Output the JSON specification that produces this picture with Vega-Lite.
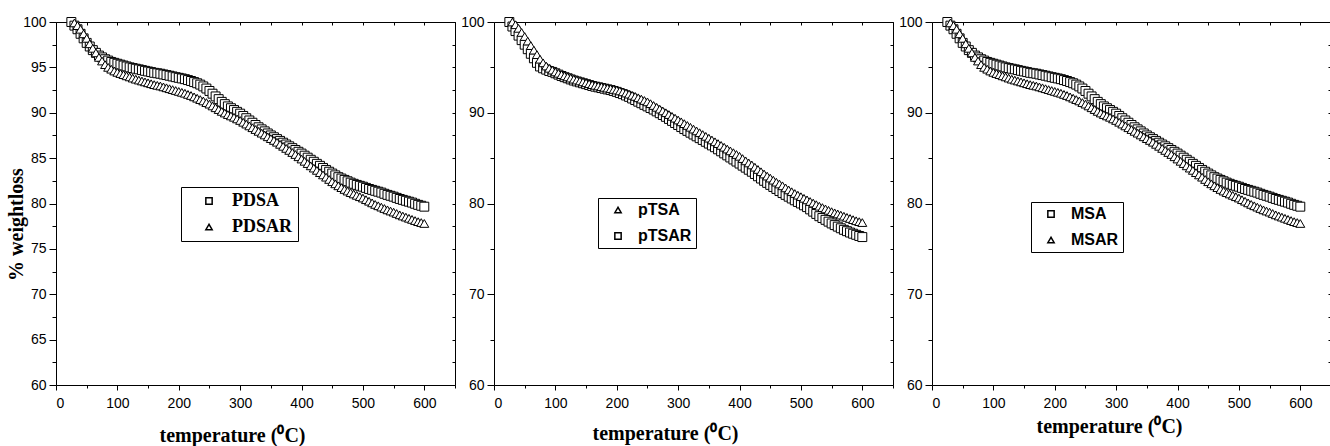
{
"$schema": "https://vega.github.io/schema/vega-lite/v6.json",
"background": "white",
"padding": {"left": 5, "top": 14, "right": 0, "bottom": 0},
"bounds": "flush",
"spacing": 39,
"resolve": {"scale": {"shape": "independent"}},
"config": {
  "view": {"stroke": "black", "strokeWidth": 1},
  "axis": {"domain": false, "grid": false, "labelFont": "Liberation Sans", "labelFontSize": 14, "labelColor": "black", "tickColor": "black", "tickWidth": 1, "titleFont": "Liberation Serif", "titleFontSize": 20, "titleFontWeight": "bold", "titleColor": "black"},
  "legend": {"title": null, "strokeColor": "black", "fillColor": "white", "symbolSize": 40, "labelColor": "black", "labelFontWeight": "bold"}
},
"datasets": {
"p1": [
{"s":"PDSA","t":25,"w":100},{"s":"PDSA","t":30,"w":99.6},{"s":"PDSA","t":35,"w":99.2},{"s":"PDSA","t":40,"w":98.7},{"s":"PDSA","t":45,"w":98.2},{"s":"PDSA","t":50,"w":97.7},{"s":"PDSA","t":55,"w":97.3},{"s":"PDSA","t":60,"w":96.9},{"s":"PDSA","t":65,"w":96.6},{"s":"PDSA","t":70,"w":96.3},{"s":"PDSA","t":75,"w":96.1},{"s":"PDSA","t":80,"w":95.9},{"s":"PDSA","t":85,"w":95.75},{"s":"PDSA","t":90,"w":95.6},{"s":"PDSA","t":95,"w":95.5},{"s":"PDSA","t":100,"w":95.4},{"s":"PDSA","t":105,"w":95.3},{"s":"PDSA","t":110,"w":95.2},{"s":"PDSA","t":115,"w":95.1},{"s":"PDSA","t":120,"w":95.0},{"s":"PDSA","t":125,"w":94.92},{"s":"PDSA","t":130,"w":94.85},{"s":"PDSA","t":135,"w":94.78},{"s":"PDSA","t":140,"w":94.7},{"s":"PDSA","t":145,"w":94.62},{"s":"PDSA","t":150,"w":94.55},{"s":"PDSA","t":155,"w":94.48},{"s":"PDSA","t":160,"w":94.4},{"s":"PDSA","t":165,"w":94.35},{"s":"PDSA","t":170,"w":94.3},{"s":"PDSA","t":175,"w":94.22},{"s":"PDSA","t":180,"w":94.15},{"s":"PDSA","t":185,"w":94.08},{"s":"PDSA","t":190,"w":94.0},{"s":"PDSA","t":195,"w":93.92},{"s":"PDSA","t":200,"w":93.85},{"s":"PDSA","t":205,"w":93.78},{"s":"PDSA","t":210,"w":93.7},{"s":"PDSA","t":215,"w":93.6},{"s":"PDSA","t":220,"w":93.5},{"s":"PDSA","t":225,"w":93.38},{"s":"PDSA","t":230,"w":93.25},{"s":"PDSA","t":235,"w":93.1},{"s":"PDSA","t":240,"w":92.9},{"s":"PDSA","t":245,"w":92.67},{"s":"PDSA","t":250,"w":92.4},{"s":"PDSA","t":255,"w":92.1},{"s":"PDSA","t":260,"w":91.8},{"s":"PDSA","t":265,"w":91.5},{"s":"PDSA","t":270,"w":91.2},{"s":"PDSA","t":275,"w":90.95},{"s":"PDSA","t":280,"w":90.7},{"s":"PDSA","t":285,"w":90.5},{"s":"PDSA","t":290,"w":90.3},{"s":"PDSA","t":295,"w":90.1},{"s":"PDSA","t":300,"w":89.9},{"s":"PDSA","t":305,"w":89.65},{"s":"PDSA","t":310,"w":89.4},{"s":"PDSA","t":315,"w":89.15},{"s":"PDSA","t":320,"w":88.9},{"s":"PDSA","t":325,"w":88.65},{"s":"PDSA","t":330,"w":88.4},{"s":"PDSA","t":335,"w":88.17},{"s":"PDSA","t":340,"w":87.95},{"s":"PDSA","t":345,"w":87.72},{"s":"PDSA","t":350,"w":87.5},{"s":"PDSA","t":355,"w":87.3},{"s":"PDSA","t":360,"w":87.1},{"s":"PDSA","t":365,"w":86.9},{"s":"PDSA","t":370,"w":86.7},{"s":"PDSA","t":375,"w":86.5},{"s":"PDSA","t":380,"w":86.3},{"s":"PDSA","t":385,"w":86.1},{"s":"PDSA","t":390,"w":85.9},{"s":"PDSA","t":395,"w":85.7},{"s":"PDSA","t":400,"w":85.5},{"s":"PDSA","t":405,"w":85.27},{"s":"PDSA","t":410,"w":85.05},{"s":"PDSA","t":415,"w":84.82},{"s":"PDSA","t":420,"w":84.6},{"s":"PDSA","t":425,"w":84.37},{"s":"PDSA","t":430,"w":84.15},{"s":"PDSA","t":435,"w":83.92},{"s":"PDSA","t":440,"w":83.7},{"s":"PDSA","t":445,"w":83.5},{"s":"PDSA","t":450,"w":83.3},{"s":"PDSA","t":455,"w":83.1},{"s":"PDSA","t":460,"w":82.9},{"s":"PDSA","t":465,"w":82.75},{"s":"PDSA","t":470,"w":82.6},{"s":"PDSA","t":475,"w":82.45},{"s":"PDSA","t":480,"w":82.3},{"s":"PDSA","t":485,"w":82.17},{"s":"PDSA","t":490,"w":82.05},{"s":"PDSA","t":495,"w":81.95},{"s":"PDSA","t":500,"w":81.85},{"s":"PDSA","t":505,"w":81.72},{"s":"PDSA","t":510,"w":81.6},{"s":"PDSA","t":515,"w":81.5},{"s":"PDSA","t":520,"w":81.4},{"s":"PDSA","t":525,"w":81.3},{"s":"PDSA","t":530,"w":81.2},{"s":"PDSA","t":535,"w":81.07},{"s":"PDSA","t":540,"w":80.95},{"s":"PDSA","t":545,"w":80.85},{"s":"PDSA","t":550,"w":80.75},{"s":"PDSA","t":555,"w":80.62},{"s":"PDSA","t":560,"w":80.5},{"s":"PDSA","t":565,"w":80.4},{"s":"PDSA","t":570,"w":80.3},{"s":"PDSA","t":575,"w":80.2},{"s":"PDSA","t":580,"w":80.1},{"s":"PDSA","t":585,"w":79.97},{"s":"PDSA","t":590,"w":79.85},{"s":"PDSA","t":595,"w":79.75},{"s":"PDSA","t":600,"w":79.65},
{"s":"PDSAR","t":30,"w":99.9},{"s":"PDSAR","t":35,"w":99.6},{"s":"PDSAR","t":40,"w":99.2},{"s":"PDSAR","t":45,"w":98.7},{"s":"PDSAR","t":50,"w":98.2},{"s":"PDSAR","t":55,"w":97.6},{"s":"PDSAR","t":60,"w":97.1},{"s":"PDSAR","t":65,"w":96.6},{"s":"PDSAR","t":70,"w":96.1},{"s":"PDSAR","t":75,"w":95.7},{"s":"PDSAR","t":80,"w":95.3},{"s":"PDSAR","t":85,"w":95.0},{"s":"PDSAR","t":90,"w":94.8},{"s":"PDSAR","t":95,"w":94.6},{"s":"PDSAR","t":100,"w":94.45},{"s":"PDSAR","t":105,"w":94.32},{"s":"PDSAR","t":110,"w":94.2},{"s":"PDSAR","t":115,"w":94.07},{"s":"PDSAR","t":120,"w":93.95},{"s":"PDSAR","t":125,"w":93.82},{"s":"PDSAR","t":130,"w":93.7},{"s":"PDSAR","t":135,"w":93.6},{"s":"PDSAR","t":140,"w":93.5},{"s":"PDSAR","t":145,"w":93.4},{"s":"PDSAR","t":150,"w":93.3},{"s":"PDSAR","t":155,"w":93.2},{"s":"PDSAR","t":160,"w":93.1},{"s":"PDSAR","t":165,"w":93.02},{"s":"PDSAR","t":170,"w":92.95},{"s":"PDSAR","t":175,"w":92.85},{"s":"PDSAR","t":180,"w":92.75},{"s":"PDSAR","t":185,"w":92.65},{"s":"PDSAR","t":190,"w":92.55},{"s":"PDSAR","t":195,"w":92.45},{"s":"PDSAR","t":200,"w":92.35},{"s":"PDSAR","t":205,"w":92.25},{"s":"PDSAR","t":210,"w":92.15},{"s":"PDSAR","t":215,"w":92.02},{"s":"PDSAR","t":220,"w":91.9},{"s":"PDSAR","t":225,"w":91.75},{"s":"PDSAR","t":230,"w":91.6},{"s":"PDSAR","t":235,"w":91.45},{"s":"PDSAR","t":240,"w":91.3},{"s":"PDSAR","t":245,"w":91.12},{"s":"PDSAR","t":250,"w":90.95},{"s":"PDSAR","t":255,"w":90.75},{"s":"PDSAR","t":260,"w":90.55},{"s":"PDSAR","t":265,"w":90.35},{"s":"PDSAR","t":270,"w":90.15},{"s":"PDSAR","t":275,"w":89.97},{"s":"PDSAR","t":280,"w":89.8},{"s":"PDSAR","t":285,"w":89.65},{"s":"PDSAR","t":290,"w":89.5},{"s":"PDSAR","t":295,"w":89.32},{"s":"PDSAR","t":300,"w":89.15},{"s":"PDSAR","t":305,"w":88.95},{"s":"PDSAR","t":310,"w":88.75},{"s":"PDSAR","t":315,"w":88.55},{"s":"PDSAR","t":320,"w":88.35},{"s":"PDSAR","t":325,"w":88.15},{"s":"PDSAR","t":330,"w":87.95},{"s":"PDSAR","t":335,"w":87.75},{"s":"PDSAR","t":340,"w":87.55},{"s":"PDSAR","t":345,"w":87.35},{"s":"PDSAR","t":350,"w":87.15},{"s":"PDSAR","t":355,"w":86.95},{"s":"PDSAR","t":360,"w":86.75},{"s":"PDSAR","t":365,"w":86.52},{"s":"PDSAR","t":370,"w":86.3},{"s":"PDSAR","t":375,"w":86.07},{"s":"PDSAR","t":380,"w":85.85},{"s":"PDSAR","t":385,"w":85.62},{"s":"PDSAR","t":390,"w":85.4},{"s":"PDSAR","t":395,"w":85.15},{"s":"PDSAR","t":400,"w":84.9},{"s":"PDSAR","t":405,"w":84.65},{"s":"PDSAR","t":410,"w":84.4},{"s":"PDSAR","t":415,"w":84.15},{"s":"PDSAR","t":420,"w":83.9},{"s":"PDSAR","t":425,"w":83.65},{"s":"PDSAR","t":430,"w":83.4},{"s":"PDSAR","t":435,"w":83.15},{"s":"PDSAR","t":440,"w":82.9},{"s":"PDSAR","t":445,"w":82.65},{"s":"PDSAR","t":450,"w":82.4},{"s":"PDSAR","t":455,"w":82.17},{"s":"PDSAR","t":460,"w":81.95},{"s":"PDSAR","t":465,"w":81.75},{"s":"PDSAR","t":470,"w":81.55},{"s":"PDSAR","t":475,"w":81.37},{"s":"PDSAR","t":480,"w":81.2},{"s":"PDSAR","t":485,"w":81.05},{"s":"PDSAR","t":490,"w":80.9},{"s":"PDSAR","t":495,"w":80.75},{"s":"PDSAR","t":500,"w":80.6},{"s":"PDSAR","t":505,"w":80.42},{"s":"PDSAR","t":510,"w":80.25},{"s":"PDSAR","t":515,"w":80.07},{"s":"PDSAR","t":520,"w":79.9},{"s":"PDSAR","t":525,"w":79.75},{"s":"PDSAR","t":530,"w":79.6},{"s":"PDSAR","t":535,"w":79.45},{"s":"PDSAR","t":540,"w":79.3},{"s":"PDSAR","t":545,"w":79.17},{"s":"PDSAR","t":550,"w":79.05},{"s":"PDSAR","t":555,"w":78.9},{"s":"PDSAR","t":560,"w":78.75},{"s":"PDSAR","t":565,"w":78.62},{"s":"PDSAR","t":570,"w":78.5},{"s":"PDSAR","t":575,"w":78.37},{"s":"PDSAR","t":580,"w":78.25},{"s":"PDSAR","t":585,"w":78.12},{"s":"PDSAR","t":590,"w":78.0},{"s":"PDSAR","t":595,"w":77.9},{"s":"PDSAR","t":600,"w":77.8}
],
"p2": [
{"s":"pTSAR","t":25,"w":100},{"s":"pTSAR","t":30,"w":99.5},{"s":"pTSAR","t":35,"w":99.0},{"s":"pTSAR","t":40,"w":98.5},{"s":"pTSAR","t":45,"w":98.0},{"s":"pTSAR","t":50,"w":97.5},{"s":"pTSAR","t":55,"w":97.0},{"s":"pTSAR","t":60,"w":96.5},{"s":"pTSAR","t":65,"w":96.0},{"s":"pTSAR","t":70,"w":95.5},{"s":"pTSAR","t":75,"w":95.1},{"s":"pTSAR","t":80,"w":94.9},{"s":"pTSAR","t":85,"w":94.75},{"s":"pTSAR","t":90,"w":94.6},{"s":"pTSAR","t":95,"w":94.5},{"s":"pTSAR","t":100,"w":94.35},{"s":"pTSAR","t":105,"w":94.2},{"s":"pTSAR","t":110,"w":94.05},{"s":"pTSAR","t":115,"w":93.92},{"s":"pTSAR","t":120,"w":93.8},{"s":"pTSAR","t":125,"w":93.67},{"s":"pTSAR","t":130,"w":93.55},{"s":"pTSAR","t":135,"w":93.45},{"s":"pTSAR","t":140,"w":93.35},{"s":"pTSAR","t":145,"w":93.25},{"s":"pTSAR","t":150,"w":93.15},{"s":"pTSAR","t":155,"w":93.05},{"s":"pTSAR","t":160,"w":92.95},{"s":"pTSAR","t":165,"w":92.87},{"s":"pTSAR","t":170,"w":92.8},{"s":"pTSAR","t":175,"w":92.72},{"s":"pTSAR","t":180,"w":92.65},{"s":"pTSAR","t":185,"w":92.57},{"s":"pTSAR","t":190,"w":92.5},{"s":"pTSAR","t":195,"w":92.4},{"s":"pTSAR","t":200,"w":92.3},{"s":"pTSAR","t":205,"w":92.17},{"s":"pTSAR","t":210,"w":92.05},{"s":"pTSAR","t":215,"w":91.9},{"s":"pTSAR","t":220,"w":91.75},{"s":"pTSAR","t":225,"w":91.57},{"s":"pTSAR","t":230,"w":91.4},{"s":"pTSAR","t":235,"w":91.22},{"s":"pTSAR","t":240,"w":91.05},{"s":"pTSAR","t":245,"w":90.87},{"s":"pTSAR","t":250,"w":90.7},{"s":"pTSAR","t":255,"w":90.52},{"s":"pTSAR","t":260,"w":90.35},{"s":"pTSAR","t":265,"w":90.15},{"s":"pTSAR","t":270,"w":89.95},{"s":"pTSAR","t":275,"w":89.75},{"s":"pTSAR","t":280,"w":89.55},{"s":"pTSAR","t":285,"w":89.32},{"s":"pTSAR","t":290,"w":89.1},{"s":"pTSAR","t":295,"w":88.87},{"s":"pTSAR","t":300,"w":88.65},{"s":"pTSAR","t":305,"w":88.42},{"s":"pTSAR","t":310,"w":88.2},{"s":"pTSAR","t":315,"w":88.0},{"s":"pTSAR","t":320,"w":87.8},{"s":"pTSAR","t":325,"w":87.6},{"s":"pTSAR","t":330,"w":87.4},{"s":"pTSAR","t":335,"w":87.2},{"s":"pTSAR","t":340,"w":87.0},{"s":"pTSAR","t":345,"w":86.8},{"s":"pTSAR","t":350,"w":86.6},{"s":"pTSAR","t":355,"w":86.4},{"s":"pTSAR","t":360,"w":86.2},{"s":"pTSAR","t":365,"w":85.97},{"s":"pTSAR","t":370,"w":85.75},{"s":"pTSAR","t":375,"w":85.52},{"s":"pTSAR","t":380,"w":85.3},{"s":"pTSAR","t":385,"w":85.07},{"s":"pTSAR","t":390,"w":84.85},{"s":"pTSAR","t":395,"w":84.62},{"s":"pTSAR","t":400,"w":84.4},{"s":"pTSAR","t":405,"w":84.17},{"s":"pTSAR","t":410,"w":83.95},{"s":"pTSAR","t":415,"w":83.72},{"s":"pTSAR","t":420,"w":83.5},{"s":"pTSAR","t":425,"w":83.25},{"s":"pTSAR","t":430,"w":83.0},{"s":"pTSAR","t":435,"w":82.75},{"s":"pTSAR","t":440,"w":82.5},{"s":"pTSAR","t":445,"w":82.27},{"s":"pTSAR","t":450,"w":82.05},{"s":"pTSAR","t":455,"w":81.82},{"s":"pTSAR","t":460,"w":81.6},{"s":"pTSAR","t":465,"w":81.37},{"s":"pTSAR","t":470,"w":81.15},{"s":"pTSAR","t":475,"w":80.95},{"s":"pTSAR","t":480,"w":80.75},{"s":"pTSAR","t":485,"w":80.55},{"s":"pTSAR","t":490,"w":80.35},{"s":"pTSAR","t":495,"w":80.17},{"s":"pTSAR","t":500,"w":80.0},{"s":"pTSAR","t":505,"w":79.8},{"s":"pTSAR","t":510,"w":79.6},{"s":"pTSAR","t":515,"w":79.35},{"s":"pTSAR","t":520,"w":79.1},{"s":"pTSAR","t":525,"w":78.85},{"s":"pTSAR","t":530,"w":78.6},{"s":"pTSAR","t":535,"w":78.4},{"s":"pTSAR","t":540,"w":78.2},{"s":"pTSAR","t":545,"w":78.0},{"s":"pTSAR","t":550,"w":77.8},{"s":"pTSAR","t":555,"w":77.62},{"s":"pTSAR","t":560,"w":77.45},{"s":"pTSAR","t":565,"w":77.27},{"s":"pTSAR","t":570,"w":77.1},{"s":"pTSAR","t":575,"w":76.95},{"s":"pTSAR","t":580,"w":76.8},{"s":"pTSAR","t":585,"w":76.67},{"s":"pTSAR","t":590,"w":76.55},{"s":"pTSAR","t":595,"w":76.42},{"s":"pTSAR","t":600,"w":76.3},
{"s":"pTSA","t":30,"w":100},{"s":"pTSA","t":35,"w":99.7},{"s":"pTSA","t":40,"w":99.3},{"s":"pTSA","t":45,"w":98.85},{"s":"pTSA","t":50,"w":98.4},{"s":"pTSA","t":55,"w":97.9},{"s":"pTSA","t":60,"w":97.4},{"s":"pTSA","t":65,"w":96.9},{"s":"pTSA","t":70,"w":96.4},{"s":"pTSA","t":75,"w":95.9},{"s":"pTSA","t":80,"w":95.5},{"s":"pTSA","t":85,"w":95.15},{"s":"pTSA","t":90,"w":94.9},{"s":"pTSA","t":95,"w":94.7},{"s":"pTSA","t":100,"w":94.5},{"s":"pTSA","t":105,"w":94.35},{"s":"pTSA","t":110,"w":94.2},{"s":"pTSA","t":115,"w":94.07},{"s":"pTSA","t":120,"w":93.95},{"s":"pTSA","t":125,"w":93.82},{"s":"pTSA","t":130,"w":93.7},{"s":"pTSA","t":135,"w":93.6},{"s":"pTSA","t":140,"w":93.5},{"s":"pTSA","t":145,"w":93.4},{"s":"pTSA","t":150,"w":93.3},{"s":"pTSA","t":155,"w":93.2},{"s":"pTSA","t":160,"w":93.1},{"s":"pTSA","t":165,"w":93.02},{"s":"pTSA","t":170,"w":92.95},{"s":"pTSA","t":175,"w":92.87},{"s":"pTSA","t":180,"w":92.8},{"s":"pTSA","t":185,"w":92.72},{"s":"pTSA","t":190,"w":92.65},{"s":"pTSA","t":195,"w":92.57},{"s":"pTSA","t":200,"w":92.5},{"s":"pTSA","t":205,"w":92.4},{"s":"pTSA","t":210,"w":92.3},{"s":"pTSA","t":215,"w":92.17},{"s":"pTSA","t":220,"w":92.05},{"s":"pTSA","t":225,"w":91.92},{"s":"pTSA","t":230,"w":91.8},{"s":"pTSA","t":235,"w":91.65},{"s":"pTSA","t":240,"w":91.5},{"s":"pTSA","t":245,"w":91.35},{"s":"pTSA","t":250,"w":91.2},{"s":"pTSA","t":255,"w":91.0},{"s":"pTSA","t":260,"w":90.8},{"s":"pTSA","t":265,"w":90.6},{"s":"pTSA","t":270,"w":90.4},{"s":"pTSA","t":275,"w":90.2},{"s":"pTSA","t":280,"w":90.0},{"s":"pTSA","t":285,"w":89.8},{"s":"pTSA","t":290,"w":89.6},{"s":"pTSA","t":295,"w":89.4},{"s":"pTSA","t":300,"w":89.2},{"s":"pTSA","t":305,"w":89.0},{"s":"pTSA","t":310,"w":88.8},{"s":"pTSA","t":315,"w":88.6},{"s":"pTSA","t":320,"w":88.4},{"s":"pTSA","t":325,"w":88.2},{"s":"pTSA","t":330,"w":88.0},{"s":"pTSA","t":335,"w":87.8},{"s":"pTSA","t":340,"w":87.6},{"s":"pTSA","t":345,"w":87.4},{"s":"pTSA","t":350,"w":87.2},{"s":"pTSA","t":355,"w":87.0},{"s":"pTSA","t":360,"w":86.8},{"s":"pTSA","t":365,"w":86.6},{"s":"pTSA","t":370,"w":86.4},{"s":"pTSA","t":375,"w":86.2},{"s":"pTSA","t":380,"w":86.0},{"s":"pTSA","t":385,"w":85.8},{"s":"pTSA","t":390,"w":85.6},{"s":"pTSA","t":395,"w":85.4},{"s":"pTSA","t":400,"w":85.2},{"s":"pTSA","t":405,"w":84.95},{"s":"pTSA","t":410,"w":84.7},{"s":"pTSA","t":415,"w":84.47},{"s":"pTSA","t":420,"w":84.25},{"s":"pTSA","t":425,"w":84.0},{"s":"pTSA","t":430,"w":83.75},{"s":"pTSA","t":435,"w":83.5},{"s":"pTSA","t":440,"w":83.25},{"s":"pTSA","t":445,"w":83.02},{"s":"pTSA","t":450,"w":82.8},{"s":"pTSA","t":455,"w":82.57},{"s":"pTSA","t":460,"w":82.35},{"s":"pTSA","t":465,"w":82.15},{"s":"pTSA","t":470,"w":81.95},{"s":"pTSA","t":475,"w":81.72},{"s":"pTSA","t":480,"w":81.5},{"s":"pTSA","t":485,"w":81.3},{"s":"pTSA","t":490,"w":81.1},{"s":"pTSA","t":495,"w":80.92},{"s":"pTSA","t":500,"w":80.75},{"s":"pTSA","t":505,"w":80.57},{"s":"pTSA","t":510,"w":80.4},{"s":"pTSA","t":515,"w":80.22},{"s":"pTSA","t":520,"w":80.05},{"s":"pTSA","t":525,"w":79.87},{"s":"pTSA","t":530,"w":79.7},{"s":"pTSA","t":535,"w":79.55},{"s":"pTSA","t":540,"w":79.4},{"s":"pTSA","t":545,"w":79.25},{"s":"pTSA","t":550,"w":79.1},{"s":"pTSA","t":555,"w":78.97},{"s":"pTSA","t":560,"w":78.85},{"s":"pTSA","t":565,"w":78.72},{"s":"pTSA","t":570,"w":78.6},{"s":"pTSA","t":575,"w":78.47},{"s":"pTSA","t":580,"w":78.35},{"s":"pTSA","t":585,"w":78.22},{"s":"pTSA","t":590,"w":78.1},{"s":"pTSA","t":595,"w":78.0},{"s":"pTSA","t":600,"w":77.9}
],
"p3": [
{"s":"MSA","t":25,"w":100},{"s":"MSA","t":30,"w":99.6},{"s":"MSA","t":35,"w":99.2},{"s":"MSA","t":40,"w":98.7},{"s":"MSA","t":45,"w":98.2},{"s":"MSA","t":50,"w":97.7},{"s":"MSA","t":55,"w":97.3},{"s":"MSA","t":60,"w":96.9},{"s":"MSA","t":65,"w":96.6},{"s":"MSA","t":70,"w":96.3},{"s":"MSA","t":75,"w":96.1},{"s":"MSA","t":80,"w":95.9},{"s":"MSA","t":85,"w":95.75},{"s":"MSA","t":90,"w":95.6},{"s":"MSA","t":95,"w":95.5},{"s":"MSA","t":100,"w":95.4},{"s":"MSA","t":105,"w":95.3},{"s":"MSA","t":110,"w":95.2},{"s":"MSA","t":115,"w":95.1},{"s":"MSA","t":120,"w":95.0},{"s":"MSA","t":125,"w":94.92},{"s":"MSA","t":130,"w":94.85},{"s":"MSA","t":135,"w":94.78},{"s":"MSA","t":140,"w":94.7},{"s":"MSA","t":145,"w":94.62},{"s":"MSA","t":150,"w":94.55},{"s":"MSA","t":155,"w":94.48},{"s":"MSA","t":160,"w":94.4},{"s":"MSA","t":165,"w":94.35},{"s":"MSA","t":170,"w":94.3},{"s":"MSA","t":175,"w":94.22},{"s":"MSA","t":180,"w":94.15},{"s":"MSA","t":185,"w":94.08},{"s":"MSA","t":190,"w":94.0},{"s":"MSA","t":195,"w":93.92},{"s":"MSA","t":200,"w":93.85},{"s":"MSA","t":205,"w":93.78},{"s":"MSA","t":210,"w":93.7},{"s":"MSA","t":215,"w":93.6},{"s":"MSA","t":220,"w":93.5},{"s":"MSA","t":225,"w":93.38},{"s":"MSA","t":230,"w":93.25},{"s":"MSA","t":235,"w":93.1},{"s":"MSA","t":240,"w":92.9},{"s":"MSA","t":245,"w":92.67},{"s":"MSA","t":250,"w":92.4},{"s":"MSA","t":255,"w":92.1},{"s":"MSA","t":260,"w":91.8},{"s":"MSA","t":265,"w":91.5},{"s":"MSA","t":270,"w":91.2},{"s":"MSA","t":275,"w":90.95},{"s":"MSA","t":280,"w":90.7},{"s":"MSA","t":285,"w":90.5},{"s":"MSA","t":290,"w":90.3},{"s":"MSA","t":295,"w":90.1},{"s":"MSA","t":300,"w":89.9},{"s":"MSA","t":305,"w":89.65},{"s":"MSA","t":310,"w":89.4},{"s":"MSA","t":315,"w":89.15},{"s":"MSA","t":320,"w":88.9},{"s":"MSA","t":325,"w":88.65},{"s":"MSA","t":330,"w":88.4},{"s":"MSA","t":335,"w":88.17},{"s":"MSA","t":340,"w":87.95},{"s":"MSA","t":345,"w":87.72},{"s":"MSA","t":350,"w":87.5},{"s":"MSA","t":355,"w":87.3},{"s":"MSA","t":360,"w":87.1},{"s":"MSA","t":365,"w":86.9},{"s":"MSA","t":370,"w":86.7},{"s":"MSA","t":375,"w":86.5},{"s":"MSA","t":380,"w":86.3},{"s":"MSA","t":385,"w":86.1},{"s":"MSA","t":390,"w":85.9},{"s":"MSA","t":395,"w":85.7},{"s":"MSA","t":400,"w":85.5},{"s":"MSA","t":405,"w":85.27},{"s":"MSA","t":410,"w":85.05},{"s":"MSA","t":415,"w":84.82},{"s":"MSA","t":420,"w":84.6},{"s":"MSA","t":425,"w":84.37},{"s":"MSA","t":430,"w":84.15},{"s":"MSA","t":435,"w":83.92},{"s":"MSA","t":440,"w":83.7},{"s":"MSA","t":445,"w":83.5},{"s":"MSA","t":450,"w":83.3},{"s":"MSA","t":455,"w":83.1},{"s":"MSA","t":460,"w":82.9},{"s":"MSA","t":465,"w":82.75},{"s":"MSA","t":470,"w":82.6},{"s":"MSA","t":475,"w":82.45},{"s":"MSA","t":480,"w":82.3},{"s":"MSA","t":485,"w":82.17},{"s":"MSA","t":490,"w":82.05},{"s":"MSA","t":495,"w":81.95},{"s":"MSA","t":500,"w":81.85},{"s":"MSA","t":505,"w":81.72},{"s":"MSA","t":510,"w":81.6},{"s":"MSA","t":515,"w":81.5},{"s":"MSA","t":520,"w":81.4},{"s":"MSA","t":525,"w":81.3},{"s":"MSA","t":530,"w":81.2},{"s":"MSA","t":535,"w":81.07},{"s":"MSA","t":540,"w":80.95},{"s":"MSA","t":545,"w":80.85},{"s":"MSA","t":550,"w":80.75},{"s":"MSA","t":555,"w":80.62},{"s":"MSA","t":560,"w":80.5},{"s":"MSA","t":565,"w":80.4},{"s":"MSA","t":570,"w":80.3},{"s":"MSA","t":575,"w":80.2},{"s":"MSA","t":580,"w":80.1},{"s":"MSA","t":585,"w":79.97},{"s":"MSA","t":590,"w":79.85},{"s":"MSA","t":595,"w":79.75},{"s":"MSA","t":600,"w":79.65},
{"s":"MSAR","t":30,"w":99.9},{"s":"MSAR","t":35,"w":99.6},{"s":"MSAR","t":40,"w":99.2},{"s":"MSAR","t":45,"w":98.7},{"s":"MSAR","t":50,"w":98.2},{"s":"MSAR","t":55,"w":97.6},{"s":"MSAR","t":60,"w":97.1},{"s":"MSAR","t":65,"w":96.6},{"s":"MSAR","t":70,"w":96.1},{"s":"MSAR","t":75,"w":95.7},{"s":"MSAR","t":80,"w":95.3},{"s":"MSAR","t":85,"w":95.0},{"s":"MSAR","t":90,"w":94.8},{"s":"MSAR","t":95,"w":94.6},{"s":"MSAR","t":100,"w":94.45},{"s":"MSAR","t":105,"w":94.32},{"s":"MSAR","t":110,"w":94.2},{"s":"MSAR","t":115,"w":94.07},{"s":"MSAR","t":120,"w":93.95},{"s":"MSAR","t":125,"w":93.82},{"s":"MSAR","t":130,"w":93.7},{"s":"MSAR","t":135,"w":93.6},{"s":"MSAR","t":140,"w":93.5},{"s":"MSAR","t":145,"w":93.4},{"s":"MSAR","t":150,"w":93.3},{"s":"MSAR","t":155,"w":93.2},{"s":"MSAR","t":160,"w":93.1},{"s":"MSAR","t":165,"w":93.02},{"s":"MSAR","t":170,"w":92.95},{"s":"MSAR","t":175,"w":92.85},{"s":"MSAR","t":180,"w":92.75},{"s":"MSAR","t":185,"w":92.65},{"s":"MSAR","t":190,"w":92.55},{"s":"MSAR","t":195,"w":92.45},{"s":"MSAR","t":200,"w":92.35},{"s":"MSAR","t":205,"w":92.25},{"s":"MSAR","t":210,"w":92.15},{"s":"MSAR","t":215,"w":92.02},{"s":"MSAR","t":220,"w":91.9},{"s":"MSAR","t":225,"w":91.75},{"s":"MSAR","t":230,"w":91.6},{"s":"MSAR","t":235,"w":91.45},{"s":"MSAR","t":240,"w":91.3},{"s":"MSAR","t":245,"w":91.12},{"s":"MSAR","t":250,"w":90.95},{"s":"MSAR","t":255,"w":90.75},{"s":"MSAR","t":260,"w":90.55},{"s":"MSAR","t":265,"w":90.35},{"s":"MSAR","t":270,"w":90.15},{"s":"MSAR","t":275,"w":89.97},{"s":"MSAR","t":280,"w":89.8},{"s":"MSAR","t":285,"w":89.65},{"s":"MSAR","t":290,"w":89.5},{"s":"MSAR","t":295,"w":89.32},{"s":"MSAR","t":300,"w":89.15},{"s":"MSAR","t":305,"w":88.95},{"s":"MSAR","t":310,"w":88.75},{"s":"MSAR","t":315,"w":88.55},{"s":"MSAR","t":320,"w":88.35},{"s":"MSAR","t":325,"w":88.15},{"s":"MSAR","t":330,"w":87.95},{"s":"MSAR","t":335,"w":87.75},{"s":"MSAR","t":340,"w":87.55},{"s":"MSAR","t":345,"w":87.35},{"s":"MSAR","t":350,"w":87.15},{"s":"MSAR","t":355,"w":86.95},{"s":"MSAR","t":360,"w":86.75},{"s":"MSAR","t":365,"w":86.52},{"s":"MSAR","t":370,"w":86.3},{"s":"MSAR","t":375,"w":86.07},{"s":"MSAR","t":380,"w":85.85},{"s":"MSAR","t":385,"w":85.62},{"s":"MSAR","t":390,"w":85.4},{"s":"MSAR","t":395,"w":85.15},{"s":"MSAR","t":400,"w":84.9},{"s":"MSAR","t":405,"w":84.65},{"s":"MSAR","t":410,"w":84.4},{"s":"MSAR","t":415,"w":84.15},{"s":"MSAR","t":420,"w":83.9},{"s":"MSAR","t":425,"w":83.65},{"s":"MSAR","t":430,"w":83.4},{"s":"MSAR","t":435,"w":83.15},{"s":"MSAR","t":440,"w":82.9},{"s":"MSAR","t":445,"w":82.65},{"s":"MSAR","t":450,"w":82.4},{"s":"MSAR","t":455,"w":82.17},{"s":"MSAR","t":460,"w":81.95},{"s":"MSAR","t":465,"w":81.75},{"s":"MSAR","t":470,"w":81.55},{"s":"MSAR","t":475,"w":81.37},{"s":"MSAR","t":480,"w":81.2},{"s":"MSAR","t":485,"w":81.05},{"s":"MSAR","t":490,"w":80.9},{"s":"MSAR","t":495,"w":80.75},{"s":"MSAR","t":500,"w":80.6},{"s":"MSAR","t":505,"w":80.42},{"s":"MSAR","t":510,"w":80.25},{"s":"MSAR","t":515,"w":80.07},{"s":"MSAR","t":520,"w":79.9},{"s":"MSAR","t":525,"w":79.75},{"s":"MSAR","t":530,"w":79.6},{"s":"MSAR","t":535,"w":79.45},{"s":"MSAR","t":540,"w":79.3},{"s":"MSAR","t":545,"w":79.17},{"s":"MSAR","t":550,"w":79.05},{"s":"MSAR","t":555,"w":78.9},{"s":"MSAR","t":560,"w":78.75},{"s":"MSAR","t":565,"w":78.62},{"s":"MSAR","t":570,"w":78.5},{"s":"MSAR","t":575,"w":78.37},{"s":"MSAR","t":580,"w":78.25},{"s":"MSAR","t":585,"w":78.12},{"s":"MSAR","t":590,"w":78.0},{"s":"MSAR","t":595,"w":77.9},{"s":"MSAR","t":600,"w":77.8}
]
},
"hconcat": [
{
 "width": 399, "height": 363,
 "data": {"name": "p1"},
 "resolve": {"axis": {"x": "independent", "y": "independent"}},
 "layer": [
  {"mark": {"type": "point", "filled": false, "fill": "white", "fillOpacity": 1, "stroke": "black", "strokeWidth": 1, "size": 80},
   "encoding": {
    "x": {"field": "t", "type": "quantitative", "scale": {"domain": [0, 650], "nice": false, "zero": false}, "axis": {"orient": "bottom", "values": [0,100,200,300,400,500,600], "tickSize": 5, "labelPadding": 6, "title": "temperature (⁰C)", "titleX": 176, "titleY": 50, "titleAlign": "center", "titleBaseline": "middle"}},
    "y": {"field": "w", "type": "quantitative", "scale": {"domain": [60, 100], "nice": false, "zero": false}, "axis": {"orient": "left", "values": [60,65,70,75,80,85,90,95,100], "tickSize": 7, "labelPadding": 3, "title": "% weightloss", "titleX": -40, "titleY": 202, "titleAlign": "center", "titleBaseline": "middle"}},
    "shape": {"field": "s", "type": "nominal", "scale": {"domain": ["PDSA", "PDSAR"], "range": ["square", "triangle-up"]},
     "legend": {"orient": "none", "legendX": 125, "legendY": 165, "padding": 5, "symbolOffset": 14, "labelOffset": 14, "rowPadding": 8, "labelFont": "Liberation Serif", "labelFontSize": 18, "symbolSize": 40}}
   }},
  {"mark": {"type": "point", "size": 0, "strokeOpacity": 0, "fillOpacity": 0},
   "encoding": {
    "x": {"field": "t", "type": "quantitative", "scale": {"domain": [0, 650], "nice": false, "zero": false}, "axis": {"orient": "bottom", "values": [50,150,250,350,450,550,650], "labels": false, "tickSize": 3, "title": null}},
    "y": {"field": "w", "type": "quantitative", "scale": {"domain": [60, 100], "nice": false, "zero": false}, "axis": {"orient": "left", "values": [62.5,67.5,72.5,77.5,82.5,87.5,92.5,97.5], "labels": false, "tickSize": 4, "title": null}}
   }},
  {"mark": {"type": "point", "size": 0, "strokeOpacity": 0, "fillOpacity": 0},
   "encoding": {
    "x": {"field": "t", "type": "quantitative", "scale": {"domain": [0, 650], "nice": false, "zero": false}, "axis": {"orient": "top", "values": [0,50,100,150,200,250,300,350,400,450,500,550,600,650], "labels": false, "tickSize": 3, "offset": -3, "title": null}},
    "y": {"field": "w", "type": "quantitative", "scale": {"domain": [60, 100], "nice": false, "zero": false}, "axis": {"orient": "right", "values": [60,62.5,65,67.5,70,72.5,75,77.5,80,82.5,85,87.5,90,92.5,95,97.5,100], "labels": false, "tickSize": 3, "offset": -3, "title": null}}
   }}
 ]
},
{
 "width": 399, "height": 363,
 "data": {"name": "p2"},
 "resolve": {"axis": {"x": "independent", "y": "independent"}},
 "layer": [
  {"mark": {"type": "point", "filled": false, "fill": "white", "fillOpacity": 1, "stroke": "black", "strokeWidth": 1, "size": 80},
   "encoding": {
    "x": {"field": "t", "type": "quantitative", "scale": {"domain": [0, 650], "nice": false, "zero": false}, "axis": {"orient": "bottom", "values": [0,100,200,300,400,500,600], "tickSize": 5, "labelPadding": 6, "title": "temperature (⁰C)", "titleX": 171, "titleY": 48, "titleAlign": "center", "titleBaseline": "middle"}},
    "y": {"field": "w", "type": "quantitative", "scale": {"domain": [60, 100], "nice": false, "zero": false}, "axis": {"orient": "left", "values": [60,70,80,90,100], "tickSize": 7, "labelPadding": 3, "title": null}},
    "shape": {"field": "s", "type": "nominal", "scale": {"domain": ["pTSA", "pTSAR"], "range": ["triangle-up", "square"]},
     "legend": {"orient": "none", "legendX": 104, "legendY": 176, "padding": 4, "symbolOffset": 8, "labelOffset": 12, "rowPadding": 10, "labelFont": "Liberation Sans", "labelFontSize": 16, "symbolSize": 40}}
   }},
  {"mark": {"type": "point", "size": 0, "strokeOpacity": 0, "fillOpacity": 0},
   "encoding": {
    "x": {"field": "t", "type": "quantitative", "scale": {"domain": [0, 650], "nice": false, "zero": false}, "axis": {"orient": "bottom", "values": [50,150,250,350,450,550,650], "labels": false, "tickSize": 3, "title": null}},
    "y": {"field": "w", "type": "quantitative", "scale": {"domain": [60, 100], "nice": false, "zero": false}, "axis": {"orient": "left", "values": [65,75,85,95], "labels": false, "tickSize": 4, "title": null}}
   }},
  {"mark": {"type": "point", "size": 0, "strokeOpacity": 0, "fillOpacity": 0},
   "encoding": {
    "x": {"field": "t", "type": "quantitative", "scale": {"domain": [0, 650], "nice": false, "zero": false}, "axis": {"orient": "top", "values": [0,50,100,150,200,250,300,350,400,450,500,550,600,650], "labels": false, "tickSize": 3, "offset": -3, "title": null}},
    "y": {"field": "w", "type": "quantitative", "scale": {"domain": [60, 100], "nice": false, "zero": false}, "axis": {"orient": "right", "values": [60,62.5,65,67.5,70,72.5,75,77.5,80,82.5,85,87.5,90,92.5,95,97.5,100], "labels": false, "tickSize": 3, "offset": -3, "title": null}}
   }}
 ]
},
{
 "width": 399, "height": 363,
 "data": {"name": "p3"},
 "resolve": {"axis": {"x": "independent", "y": "independent"}},
 "layer": [
  {"mark": {"type": "point", "filled": false, "fill": "white", "fillOpacity": 1, "stroke": "black", "strokeWidth": 1, "size": 80},
   "encoding": {
    "x": {"field": "t", "type": "quantitative", "scale": {"domain": [0, 650], "nice": false, "zero": false}, "axis": {"orient": "bottom", "values": [0,100,200,300,400,500,600], "tickSize": 5, "labelPadding": 6, "title": "temperature (⁰C)", "titleX": 177, "titleY": 41, "titleAlign": "center", "titleBaseline": "middle"}},
    "y": {"field": "w", "type": "quantitative", "scale": {"domain": [60, 100], "nice": false, "zero": false}, "axis": {"orient": "left", "values": [60,70,80,90,100], "tickSize": 7, "labelPadding": 3, "title": null}},
    "shape": {"field": "s", "type": "nominal", "scale": {"domain": ["MSA", "MSAR"], "range": ["square", "triangle-up"]},
     "legend": {"orient": "none", "legendX": 99, "legendY": 180, "padding": 4, "symbolOffset": 8, "labelOffset": 12, "rowPadding": 10, "labelFont": "Liberation Sans", "labelFontSize": 16, "symbolSize": 40}}
   }},
  {"mark": {"type": "point", "size": 0, "strokeOpacity": 0, "fillOpacity": 0},
   "encoding": {
    "x": {"field": "t", "type": "quantitative", "scale": {"domain": [0, 650], "nice": false, "zero": false}, "axis": {"orient": "bottom", "values": [50,150,250,350,450,550,650], "labels": false, "tickSize": 3, "title": null}},
    "y": {"field": "w", "type": "quantitative", "scale": {"domain": [60, 100], "nice": false, "zero": false}, "axis": {"orient": "left", "values": [65,75,85,95], "labels": false, "tickSize": 4, "title": null}}
   }},
  {"mark": {"type": "point", "size": 0, "strokeOpacity": 0, "fillOpacity": 0},
   "encoding": {
    "x": {"field": "t", "type": "quantitative", "scale": {"domain": [0, 650], "nice": false, "zero": false}, "axis": {"orient": "top", "values": [0,50,100,150,200,250,300,350,400,450,500,550,600,650], "labels": false, "tickSize": 3, "offset": -3, "title": null}},
    "y": {"field": "w", "type": "quantitative", "scale": {"domain": [60, 100], "nice": false, "zero": false}, "axis": {"orient": "right", "values": [60,62.5,65,67.5,70,72.5,75,77.5,80,82.5,85,87.5,90,92.5,95,97.5,100], "labels": false, "tickSize": 3, "offset": -3, "title": null}}
   }}
 ]
}
]
}
